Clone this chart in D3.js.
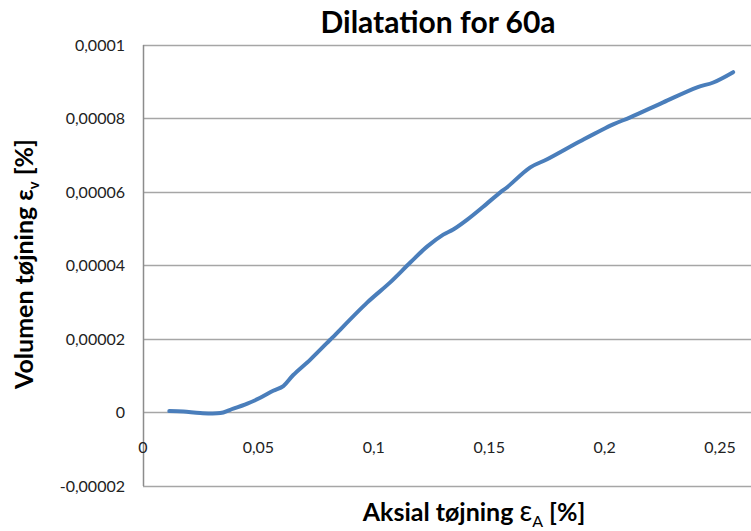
<!DOCTYPE html>
<html>
<head>
<meta charset="utf-8">
<script src="https://cdn.jsdelivr.net/npm/d3@7"></script>
<style>
  html, body { margin: 0; padding: 0; background: #fff; }
  svg { display: block; font-family: Lato, "Open Sans", sans-serif; }
</style>
</head>
<body>
<div id="chart"></div>
<script>
// aksial tøjning [%] og volumentøjning [%]
const strainA = [0.0114, 0.0175, 0.0248, 0.0335, 0.0378, 0.0452, 0.0508, 0.0564, 0.0608, 0.0651,
  0.0725, 0.0811, 0.0824, 0.0971, 0.1071, 0.1158, 0.1232, 0.1301, 0.1344, 0.1405, 0.1474,
  0.1548, 0.1578, 0.1678, 0.1751, 0.1894, 0.2037, 0.2111, 0.2254, 0.2401, 0.2471, 0.2557];
const strainV = [0.00000038, 0.00000027, -0.00000016, -0.00000016, 0.00000074, 0.0000024, 0.0000040,
  0.0000059, 0.0000072, 0.0000102, 0.0000144, 0.0000198, 0.0000206, 0.0000299, 0.0000354,
  0.0000408, 0.0000452, 0.0000484, 0.0000498, 0.0000525, 0.0000560, 0.0000599, 0.0000613,
  0.0000667, 0.0000689, 0.0000738, 0.0000784, 0.0000803, 0.0000844, 0.0000885, 0.0000898, 0.0000926];

const xTicks = [0, 0.05, 0.1, 0.15, 0.2, 0.25];
const xTickLabels = ["0", "0,05", "0,1", "0,15", "0,2", "0,25"];
const yTicks = [-0.00002, 0, 0.00002, 0.00004, 0.00006, 0.00008, 0.0001];
const yTickLabels = ["-0,00002", "0", "0,00002", "0,00004", "0,00006", "0,00008", "0,0001"];

const W = 751, Ht = 531;
const m = { l: 143, t: 45, b: 486 };

const svg = d3.select("#chart").append("svg").attr("width", W).attr("height", Ht);

// x-aksen fortsætter til 0,3 (uden for billedet)
const x = d3.scaleLinear().domain([0, 0.3]).range([m.l, m.l + 6 * 115.4]);
const y = d3.scaleLinear().domain([-0.00002, 0.0001]).range([m.b, m.t]);

// gitterlinjer
svg.append("g").selectAll("line").data(yTicks).join("line")
  .attr("x1", m.l).attr("x2", W)
  .attr("y1", d => Math.round(y(d)) + 0.5).attr("y2", d => Math.round(y(d)) + 0.5)
  .attr("stroke", "#a6a6a6").attr("stroke-width", 1.5);

// lodret akse
svg.append("line")
  .attr("x1", m.l + 0.5).attr("x2", m.l + 0.5).attr("y1", m.t).attr("y2", m.b)
  .attr("stroke", "#8c8c8c").attr("stroke-width", 1.5);

// y-tekster
svg.append("g").selectAll("text").data(yTicks).join("text")
  .attr("x", 125).attr("y", d => y(d) + 5.5)
  .attr("text-anchor", "end")
  .style("font-size", "16px").style("fill", "#222")
  .text((d, i) => yTickLabels[i]);

// x-tekster (ved nul-linjen)
svg.append("g").selectAll("text").data(xTicks).join("text")
  .attr("x", d => x(d)).attr("y", y(0) + 40)
  .attr("text-anchor", "middle")
  .style("font-size", "16px").style("fill", "#222")
  .text((d, i) => xTickLabels[i]);

// kurve
const line = d3.line().x((d, i) => x(strainA[i])).y(d => y(d)).curve(d3.curveCatmullRom);
svg.append("path").datum(strainV)
  .attr("d", line)
  .attr("fill", "none").attr("stroke", "#4a7ebb").attr("stroke-width", 4)
  .attr("stroke-linecap", "round").attr("stroke-linejoin", "round");

// titel
svg.append("text").attr("x", 438).attr("y", 33)
  .attr("text-anchor", "middle")
  .style("font-size", "30px").style("font-weight", 700)
  .text("Dilatation for 60a");

// aksetitler
const xt = svg.append("text").attr("x", 474).attr("y", 521)
  .attr("text-anchor", "middle")
  .style("font-size", "25px").style("font-weight", 700);
xt.append("tspan").text("Aksial tøjning ");
xt.append("tspan").style("font-weight", 400).style("font-size", "28px").text("ε");
xt.append("tspan").attr("dy", 6).style("font-size", "16px").style("font-weight", 400).text("A");
xt.append("tspan").attr("dy", -6).text(" [%]");

const yt = svg.append("text")
  .attr("transform", "translate(33,264) rotate(-90)")
  .attr("text-anchor", "middle")
  .style("font-size", "25px").style("font-weight", 700);
yt.append("tspan").text("Volumen tøjning ε");
yt.append("tspan").attr("dy", 6).style("font-size", "15px").text("v");
yt.append("tspan").attr("dy", -6).text(" [%]");
</script>
</body>
</html>
